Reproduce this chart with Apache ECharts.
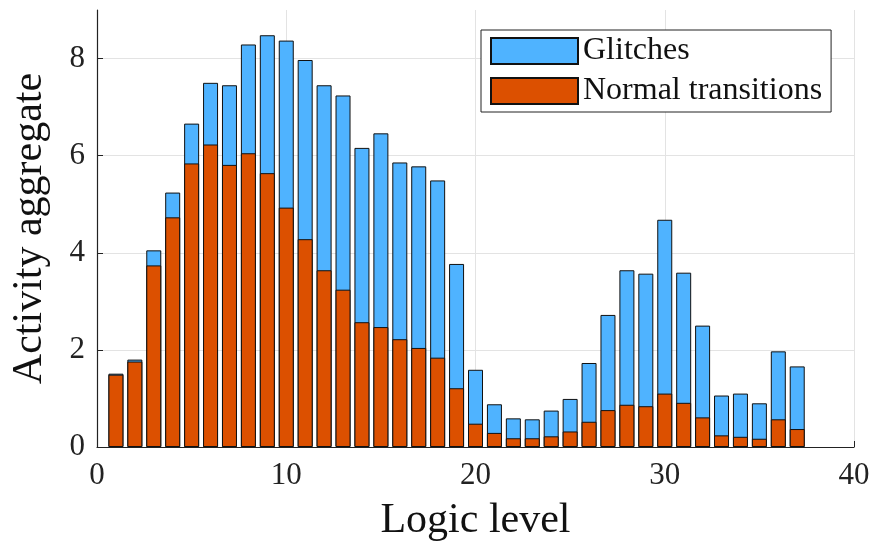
<!DOCTYPE html>
<html>
<head>
<meta charset="utf-8">
<script src="https://cdn.jsdelivr.net/npm/echarts@6/dist/echarts.min.js"></script>
<style>
  html, body { margin: 0; padding: 0; background: #fff; }
  #main { width: 876px; height: 547px; }
</style>
</head>
<body>
<div id="main"></div>
<script>
// logic levels 1..37
const levels = [1, 2, 3, 4, 5, 6, 7, 8, 9, 10, 11, 12, 13, 14, 15, 16, 17, 18, 19,
  20, 21, 22, 23, 24, 25, 26, 27, 28, 29, 30, 31, 32, 33, 34, 35, 36, 37]
const normal = [1.49, 1.76, 3.74, 4.73, 5.84, 6.23, 5.81, 6.05, 5.64, 4.93, 4.28, 3.64, 3.24,
  2.57, 2.47, 2.22, 2.04, 1.84, 1.21, 0.48, 0.29, 0.18, 0.18, 0.22, 0.32, 0.52, 0.76,
  0.87, 0.84, 1.10, 0.91, 0.61, 0.24, 0.21, 0.17, 0.57, 0.37]
const glitches = [0.02, 0.04, 0.31, 0.51, 0.82, 1.27, 1.64, 2.24, 2.84, 3.44, 3.69, 3.81, 4.00,
  3.59, 3.99, 3.64, 3.74, 3.65, 2.56, 1.11, 0.59, 0.41, 0.39, 0.53, 0.67, 1.21, 1.96,
  2.77, 2.73, 3.58, 2.68, 1.89, 0.82, 0.89, 0.73, 1.40, 1.29]
const xTicks = [0, 10, 20, 30, 40]

// glitch bars sit on top of the normal ones, so draw them up to the sum
const totals = normal.map((v, i) => +(v + glitches[i]).toFixed(2))

const font = 'Liberation Serif'
let chart = echarts.init(document.getElementById('main'))
chart.setOption({
  animation: false,
  textStyle: { fontFamily: font },
  grid: { left: 97, right: 22, top: 10, bottom: 100 },
  legend: {
    data: ['Glitches', 'Normal transitions'],
    orient: 'vertical',
    left: 481,
    top: 30,
    icon: 'rect',
    itemWidth: 87,
    itemHeight: 26,
    itemGap: 8,
    padding: [5, 9, 5, 9],
    borderColor: '#222',
    borderWidth: 1,
    borderRadius: 0,
    backgroundColor: '#fff',
    textStyle: { fontFamily: font, fontSize: 32, lineHeight: 29, color: '#111' }
  },
  xAxis: {
    type: 'value',
    min: xTicks[0],
    max: xTicks[xTicks.length - 1],
    interval: 10,
    name: 'Logic level',
    nameLocation: 'middle',
    nameGap: 53,
    nameTextStyle: { fontFamily: font, fontSize: 42, color: '#111' },
    axisLine: { show: true, lineStyle: { color: '#222', width: 1.2 } },
    axisTick: { show: true, inside: true, length: 6, lineStyle: { color: '#222' } },
    axisLabel: { fontFamily: font, fontSize: 31, color: '#222', margin: 13 },
    splitLine: { show: true, lineStyle: { color: '#e3e3e3', width: 1 } }
  },
  yAxis: {
    type: 'value',
    min: 0,
    max: 9,
    interval: 2,
    name: 'Activity aggregate',
    nameLocation: 'middle',
    nameGap: 46,
    nameTextStyle: { fontFamily: font, fontSize: 42, color: '#111' },
    axisLine: { show: true, lineStyle: { color: '#222', width: 1.2 } },
    axisTick: { show: true, inside: true, length: 6, lineStyle: { color: '#222' } },
    axisLabel: { fontFamily: font, fontSize: 31, color: '#222', margin: 12, showMaxLabel: false },
    splitLine: { show: true, showMaxLine: false, lineStyle: { color: '#e3e3e3', width: 1 } }
  },
  series: [
    {
      name: 'Glitches',
      type: 'bar',
      barWidth: 15,
      barGap: '-100%',
      z: 2,
      data: levels.map((x, i) => [x, totals[i]]),
      itemStyle: { color: '#4fb3ff', borderColor: '#111', borderWidth: 1 }
    },
    {
      name: 'Normal transitions',
      type: 'bar',
      barWidth: 15,
      barGap: '-100%',
      z: 3,
      data: levels.map((x, i) => [x, normal[i]]),
      itemStyle: { color: '#dc5000', borderColor: '#111', borderWidth: 1 }
    }
  ]
})
</script>
</body>
</html>
